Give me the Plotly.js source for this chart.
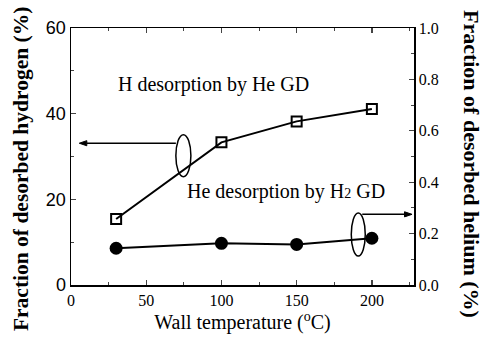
<!DOCTYPE html>
<html>
<head>
<meta charset="utf-8">
<script src="https://cdn.plot.ly/plotly-3.0.1.min.js"></script>
<style>html,body{margin:0;padding:0;background:#fff;}#chart{width:486px;height:339px;}</style>
</head>
<body>
<div id="chart"></div>
<script>
// Data
const wallTemp = [30, 100, 150, 200];              // °C
const hydrogenDesorbed = [15.4, 33.3, 38.2, 41.1]; // % (left axis)
const heliumDesorbed = [0.143, 0.162, 0.158, 0.182]; // % (right axis)

const xTickVals = [0, 50, 100, 150, 200];
const yTickVals = [0, 20, 40, 60];
const y2TickVals = [0.0, 0.2, 0.4, 0.6, 0.8, 1.0];
const y2TickText = ['0.0', '0.2', '0.4', '0.6', '0.8', '1.0'];

const serif = 'Liberation Serif';
const sans = 'Liberation Sans';

const traces = [
  {
    x: wallTemp, y: hydrogenDesorbed, type: 'scatter', mode: 'lines+markers',
    name: 'H desorption by He GD',
    line: {color: '#000', width: 2},
    marker: {symbol: 'square-open', size: 10, color: '#000', line: {width: 2, color: '#000'}},
    xaxis: 'x', yaxis: 'y', showlegend: false
  },
  {
    x: wallTemp, y: heliumDesorbed, type: 'scatter', mode: 'lines+markers',
    name: 'He desorption by H2 GD',
    line: {color: '#000', width: 2},
    marker: {symbol: 'circle', size: 13, color: '#000'},
    xaxis: 'x', yaxis: 'y2', showlegend: false
  }
];

// guide arrows (pointer from ellipse to the axis it belongs to)
function arrowShapes(x0, x1, y, yref, headLen, headHalf) {
  const dir = x1 > x0 ? 1 : -1;
  const xb = x1 - dir * headLen;
  return [
    {type: 'line', xref: 'x', yref: yref, x0: x0, x1: xb, y0: y, y1: y, line: {color: '#000', width: 1.5}},
    {type: 'path', xref: 'x', yref: yref,
     path: `M ${x1} ${y} L ${xb} ${y + headHalf} L ${xb} ${y - headHalf} Z`,
     fillcolor: '#000', line: {color: '#000', width: 1}}
  ];
}

const layout = {
  width: 486, height: 339,
  margin: {l: 71, r: 72, t: 28, b: 54},
  paper_bgcolor: '#fff', plot_bgcolor: '#fff',
  font: {family: serif, color: '#000'},
  xaxis: {
    range: [0, 228], tickvals: xTickVals, ticks: 'inside', ticklen: 5, tickwidth: 1.3,
    minor: {dtick: 25, tick0: 0, ticks: 'inside', ticklen: 3, tickwidth: 1},
    showline: true, linewidth: 1.5, linecolor: '#000', mirror: 'ticks',
    showgrid: false, zeroline: false,
    tickfont: {family: serif, size: 16, color: '#000'},
    title: {text: 'Wall temperature (<sup>o</sup>C)', font: {family: serif, size: 20, color: '#000'}, standoff: 4}
  },
  yaxis: {
    range: [0, 60], tickvals: yTickVals, ticks: 'inside', ticklen: 5, tickwidth: 1.3,
    minor: {dtick: 10, tick0: 0, ticks: 'inside', ticklen: 3, tickwidth: 1},
    showline: true, linewidth: 1.5, linecolor: '#000', mirror: false,
    showgrid: false, zeroline: false,
    tickfont: {family: sans, size: 18, color: '#000'}
  },
  yaxis2: {
    range: [0, 1], overlaying: 'y', side: 'right',
    tickvals: y2TickVals, ticktext: y2TickText, ticks: 'inside', ticklen: 5, tickwidth: 1.3,
    minor: {dtick: 0.1, tick0: 0, ticks: 'inside', ticklen: 3, tickwidth: 1},
    showline: true, linewidth: 1.5, linecolor: '#000',
    showgrid: false, zeroline: false,
    tickfont: {family: serif, size: 16, color: '#000'}
  },
  shapes: [
    {type: 'circle', xref: 'x', yref: 'y', x0: 69.7, x1: 79.7, y0: 25.3, y1: 35.1, line: {color: '#000', width: 1.5}},
    {type: 'circle', xref: 'x', yref: 'y2', x0: 186.3, x1: 195.6, y0: 0.113, y1: 0.28, line: {color: '#000', width: 1.5}},
    ...arrowShapes(69.7, 5.5, 33.1, 'y', 5, 0.6),
    ...arrowShapes(193.6, 226.7, 0.275, 'y2', 5, 0.01)
  ],
  annotations: [
    {xref: 'x', yref: 'y', x: 95, y: 46.7, text: 'H desorption by He GD', showarrow: false,
     font: {family: serif, size: 20, color: '#000'}},
    {xref: 'x', yref: 'y', x: 142.6, y: 21.8, text: 'He desorption by H<span style="font-size:14px">2</span> GD', showarrow: false,
     font: {family: serif, size: 20, color: '#000'}},
    {xref: 'paper', yref: 'paper', x: 0, y: 0.451, xanchor: 'center', yanchor: 'middle', xshift: -50,
     text: '<b>Fraction of desorbed hydrogen (%)</b>', textangle: -90, showarrow: false,
     font: {family: serif, size: 21.5, color: '#000'}},
    {xref: 'paper', yref: 'paper', x: 1, y: 0.471, xanchor: 'center', yanchor: 'middle', xshift: 57,
     text: '<b>Fraction of desorbed helium (%)</b>', textangle: 90, showarrow: false,
     font: {family: serif, size: 22, color: '#000'}}
  ]
};

Plotly.newPlot('chart', traces, layout, {staticPlot: true, displayModeBar: false});
</script>
</body>
</html>
